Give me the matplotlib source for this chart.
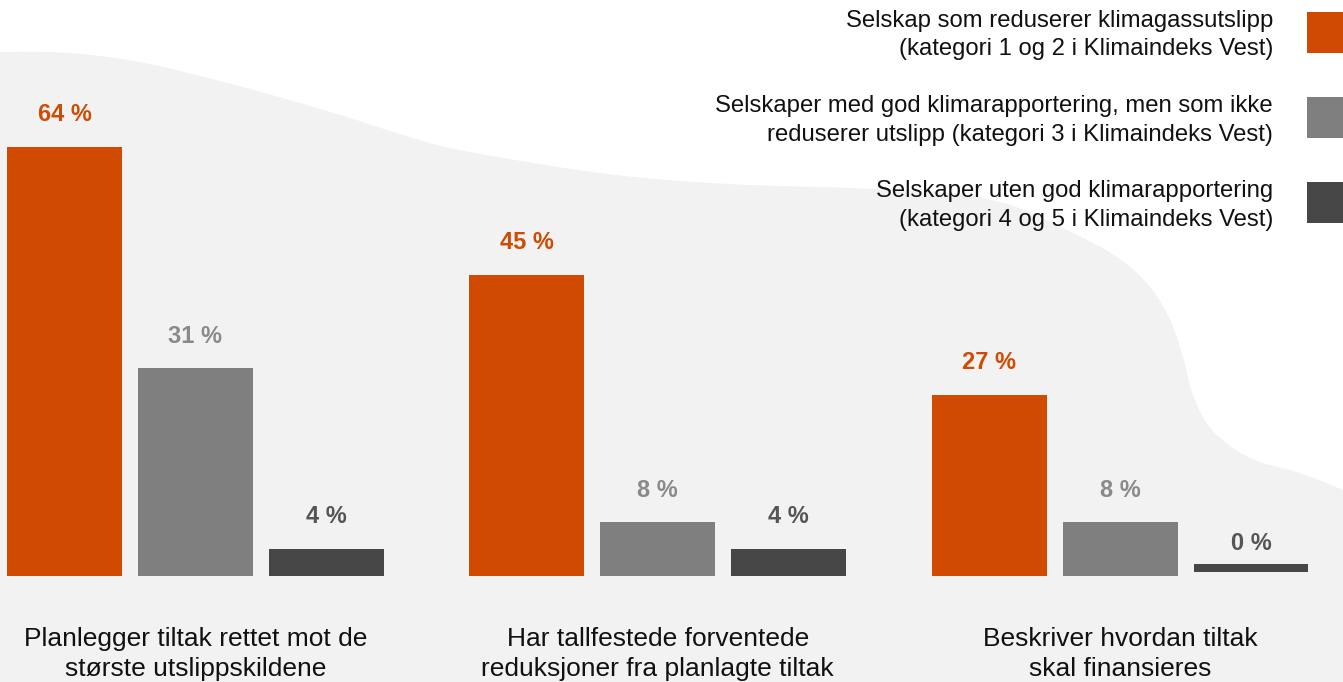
import numpy as np
import matplotlib
matplotlib.use("Agg")
import matplotlib.pyplot as plt
from matplotlib.patches import Patch, Rectangle
from matplotlib.legend_handler import HandlerPatch

plt.rcParams['font.family'] = ['Liberation Sans', 'DejaVu Sans']

# ---- data ----
categories = ["Planlegger tiltak rettet mot de\nstørste utslippskildene",
              "Har tallfestede forventede\nreduksjoner fra planlagte tiltak",
              "Beskriver hvordan tiltak\nskal finansieres"]
series_names = ["Selskap som reduserer klimagassutslipp\n(kategori 1 og 2 i Klimaindeks Vest)",
                "Selskaper med god klimarapportering, men som ikke\nreduserer utslipp (kategori 3 i Klimaindeks Vest)",
                "Selskaper uten god klimarapportering\n(kategori 4 og 5 i Klimaindeks Vest)"]
reduserer = [64, 45, 27]
god_rapportering = [31, 8, 8]
uten_rapportering = [4, 4, 0]
series_values = [reduserer, god_rapportering, uten_rapportering]

colors = ["#D04A02", "#7F7F7F", "#474747"]
label_colors = ["#D04A02", "#8A8A8A", "#555555"]

W, H = 1343, 682
fig = plt.figure(figsize=(W / 100, H / 100), dpi=100)
fig.patch.set_facecolor("white")

# ---- background wave ----
bg = fig.add_axes([0, 0, 1, 1], zorder=0)
bg.set_xlim(0, W)
bg.set_ylim(H, 0)
bg.axis("off")
wave = np.array([(-10, 52), (0, 52), (50, 52), (100, 56), (150, 64), (200, 76), (250, 89),
                 (300, 103), (350, 118), (400, 134), (450, 148), (533, 163), (600, 173),
                 (667, 180), (750, 185), (850, 188), (950, 193), (1010, 205), (1063, 228),
                 (1117, 257), (1150, 287), (1170, 320), (1183, 357), (1193, 395),
                 (1212, 430), (1250, 458), (1300, 473), (1343, 490), (1353, 495)], float)

def catmull(pts, n=20):
    out = []
    for i in range(1, len(pts) - 2):
        p0, p1, p2, p3 = pts[i - 1], pts[i], pts[i + 1], pts[i + 2]
        for t in np.linspace(0, 1, n, endpoint=False):
            t2, t3 = t * t, t * t * t
            out.append(0.5 * ((2 * p1) + (-p0 + p2) * t + (2 * p0 - 5 * p1 + 4 * p2 - p3) * t2
                              + (-p0 + 3 * p1 - 3 * p2 + p3) * t3))
    out.append(pts[-2])
    return np.array(out)

curve = catmull(wave)
poly = np.vstack([curve, [[W + 10, H + 10], [-10, H + 10]]])
bg.fill(poly[:, 0], poly[:, 1], color="#F2F2F2", lw=0)

# ---- bars ----
ax = fig.add_axes([0, 0, 1, 1], zorder=1)
ax.patch.set_alpha(0)
ax.axis("off")
px_per_unit = 6.70
group_px = 462.25
ax.set_ylim(-(H - 576) / px_per_unit, 576 / px_per_unit)
ax.set_xlim(-195.5 / group_px, -195.5 / group_px + W / group_px)

x = np.arange(len(categories))
step = 131 / group_px
width = 115 / group_px
for i, (vals, c, lc, name) in enumerate(zip(series_values, colors, label_colors, series_names)):
    xs = x + (i - 1) * step
    vals = np.array(vals, float)
    heights = np.where(vals > 0, vals, 1.2)
    bottoms = np.where(vals > 0, 0, 0.6)
    ax.bar(xs, heights, width=width, bottom=bottoms, color=c, label=name, zorder=2)
    for xi, v in zip(xs, vals):
        ax.annotate(f"{v:.0f} %", xy=(xi, v), xytext=(0, 23.2), textcoords="offset points",
                    ha="center", va="center", fontsize=17, fontweight="bold", color=lc)

for xi, cat in zip(x, categories):
    ax.annotate(cat, xy=(xi, 0), xytext=(0, -56.4), textcoords="offset points",
                ha="center", va="center", fontsize=19, color="#111111",
                linespacing=1.32, annotation_clip=False)

# ---- legend ----
def raised_square(legend, orig_handle, xdescent, ydescent, width, height, fontsize):
    return Rectangle((-xdescent, -ydescent + 2.9), width, height)

handles = [Patch(facecolor=c, edgecolor="none") for c in colors]
leg = fig.legend(handles, series_names, loc="upper right",
                 bbox_to_anchor=(1348 / W, 1 - 10 / H), bbox_transform=fig.transFigure,
                 frameon=False, markerfirst=False, fontsize=17.2,
                 handlelength=1.72, handleheight=2.27, handletextpad=1.42,
                 labelspacing=1.45, borderpad=0, borderaxespad=0,
                 handler_map={Patch: HandlerPatch(patch_func=raised_square)})
for t in leg.get_texts():
    t.set_multialignment("right")
    t.set_linespacing(1.38)
    t.set_color("#111111")

fig.savefig("out.png", dpi=100)
